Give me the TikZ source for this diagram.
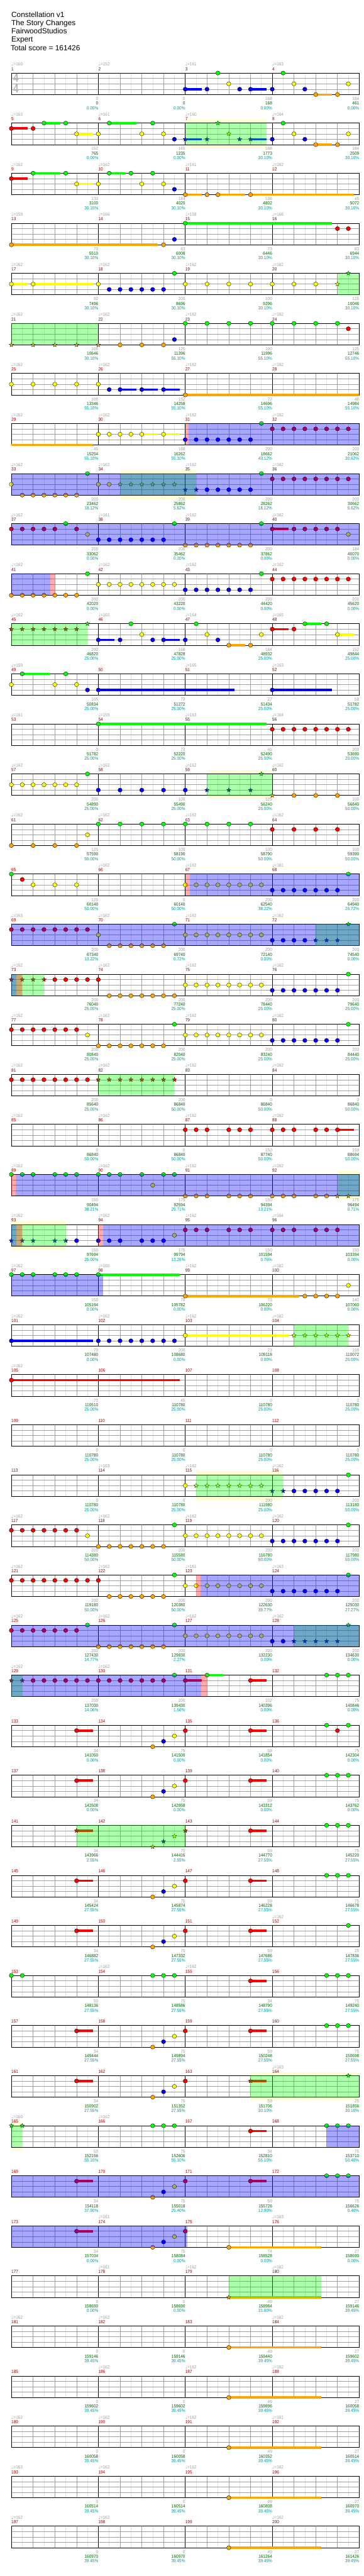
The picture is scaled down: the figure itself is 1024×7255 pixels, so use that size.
\documentclass[tikz,border=0pt]{standalone}
\usepackage{fontspec}
\setmainfont{Liberation Sans}
\newfontfamily\smallfam[FakeStretch=0.92]{Liberation Sans}
\newfontfamily\djv{DejaVu Sans}
\usetikzlibrary{shapes.geometric}
\definecolor{lane0}{HTML}{00FF00}
\definecolor{lane1}{HTML}{FF0000}
\definecolor{lane2}{HTML}{FFFF00}
\definecolor{lane3}{HTML}{0000FF}
\definecolor{lane4}{HTML}{FFA500}
\definecolor{tgray}{HTML}{A0A0A0}
\definecolor{mred}{HTML}{990000}
\definecolor{sgreen}{HTML}{006400}
\definecolor{pteal}{HTML}{009999}
\definecolor{glight}{HTML}{E0E0E0}
\definecolor{gbeat}{HTML}{A0A0A0}
\definecolor{bandc}{HTML}{FFFFD2}
\definecolor{tsgray}{HTML}{B4B4B4}
\newcommand\qtf{\smallfam\fontsize{12.5pt}{13pt}\selectfont}
\tikzset{
  nh/.style={draw=black,line width=0.6pt},
  st/.style={star,star points=5,star point ratio=2.4,minimum size=13,inner sep=0pt,draw=black,line width=0.5pt},
  tempo/.style={anchor=base west,inner sep=0pt,text=tgray,font=\qtf},
  mnum/.style={anchor=base west,inner sep=0pt,text=mred,font=\qtf},
  nA/.style={anchor=base east,inner sep=0pt,text=tgray,font=\qtf},
  nB/.style={anchor=base east,inner sep=0pt,text=sgreen,font=\qtf},
  nC/.style={anchor=base east,inner sep=0pt,text=pteal,font=\qtf},
  ttl/.style={anchor=base west,inner sep=0pt,font=\fontsize{21pt}{23pt}\selectfont},
  gl/.style={glight,line width=1pt},
  gb/.style={gbeat,line width=1pt},
  gm/.style={black,line width=1pt},
  gbd/.style={black,line width=1.5pt},
  ovg/.style={fill=lane0,opacity=0.33},
  ovr/.style={fill=lane1,opacity=0.33},
  ovb/.style={fill=lane3,opacity=0.345}
}
\newcommand\qNC[3]{\path[nh,fill=lane#3] ({32+15.3125*(#2)},{205.7+141*(#1)+15.15*(#3)}) ellipse [x radius=6, y radius=5.8];}
\newcommand\qNS[3]{\node[st,fill=lane#3] at ({32+15.3125*(#2)},{205.7+141*(#1)+15.15*(#3)}) {};}
\newcommand\qSB[4]{\fill[lane#3] ({32+15.3125*(#2)},{205.7+141*(#1)+15.15*(#3)-3.25}) rectangle ({32+15.3125*(#4)},{205.7+141*(#1)+15.15*(#3)+3.25});}
\newcommand\qSC[4]{\qSB{#1}{#2}{#3}{#4}\qNC{#1}{#2}{#3}}
\newcommand\qSS[4]{\qSB{#1}{#2}{#3}{#4}\qNS{#1}{#2}{#3}}
\newcommand\qNCL[3]{\foreach \pp in {#3}{\qNC{#1}{\pp}{#2}}}
\newcommand\qNSL[3]{\foreach \pp in {#3}{\qNS{#1}{\pp}{#2}}}
\newcommand\qOV[4]{\fill[#4] ({32+15.3125*(#2)},{205.7+141*(#1)}) rectangle ({32+15.3125*(#3)},{205.7+141*(#1)+60.6});}
\newcommand\qOG[3]{\qOV{#1}{#2}{#3}{ovg}}
\newcommand\qOR[3]{\qOV{#1}{#2}{#3}{ovr}}
\newcommand\qOB[3]{\qOV{#1}{#2}{#3}{ovb}}
\newcommand\qBD[3]{\fill[bandc] ({32+15.3125*(#2)},{205.7+141*(#1)-10}) rectangle ({32+15.3125*(#3)},{205.7+141*(#1)+70.6});}
\newcommand\qTPone[3]{\ifx\relax#3\relax\else\node[tempo] at ({32+245*#2},{205.7+141*(#1)-20}) {{\djv ♩}=#3};\fi}
\newcommand\qTP[5]{\qTPone{#1}{0}{#2}\qTPone{#1}{1}{#3}\qTPone{#1}{2}{#4}\qTPone{#1}{3}{#5}}
\newcommand\qBN[2]{\foreach \ga/\gb/\gc [count=\mm from 1] in {#2}{%
  \node[nA] at ({32+245*\mm},{205.7+141*(#1)+76.6}) {\ga};
  \node[nB] at ({32+245*\mm},{205.7+141*(#1)+89.7}) {\gb};
  \node[nC] at ({32+245*\mm},{205.7+141*(#1)+102.6}) {\gc\%};}}
\newcommand\qPat[1]{\qSC{#1}{12}{1}{15}\qNC{#1}{26}{4}\qNC{#1}{28}{3}\qNC{#1}{30}{2}\qNC{#1}{32}{1}\qSC{#1}{44}{1}{47}}
\begin{document}
\begin{tikzpicture}[x=1pt,y=-1pt]
\useasboundingbox (0,0) rectangle (1024,7255);
\fill[white] (0,0) rectangle (1024,7255);
% title
\node[ttl] (t1) at (32,49.3) {Constellation v1};
\node[ttl] (t2) at (32,72) {The Story Changes};
\node[ttl] (t3) at (32,95) {FairwoodStudios};
\node[ttl] (t4) at (32,118) {Expert};
\node[ttl] (t5) at (30,141.7) {Total score = 161426};
% bands
\qBD{1}{32}{47}\qBD{8}{20}{34}\qBD{14}{36}{48}\qBD{22}{60}{64}\qBD{23}{0}{10}
\qBD{28}{34}{50}\qBD{40}{44}{64}\qBD{41}{0}{2}
% staves
\foreach \r in {0,...,49}{
  \pgfmathsetmacro\rowy{205.7+141*\r}
  \fill[white] (32,\rowy) rectangle (1012,{\rowy+60.6});
  \foreach \k in {1,3,...,31} \draw[gl] ({32+30.625*\k},\rowy) -- ++(0,60.6);
  \foreach \k in {1,2,3} \draw[gb] (32,{\rowy+15.15*\k}) -- (1012,{\rowy+15.15*\k});
  \foreach \k in {1,2,3,5,6,7,9,10,11,13,14,15} \draw[gb] ({32+61.25*\k},\rowy) -- ++(0,60.6);
  \foreach \k in {0,...,4} \draw[gm] ({32+245*\k},\rowy) -- ++(0,60.6);
  \draw[gbd] (31.5,\rowy) -- (1012.5,\rowy) (31.5,{\rowy+60.6}) -- (1012.5,{\rowy+60.6});
  \foreach \m in {0,...,3}{
    \pgfmathtruncatemacro\mn{4*\r+\m+1}
    \node[mnum] at ({32+245*\m},{\rowy-7.3}) {\mn};
  }
}
% time signature
\node[text=tsgray,font=\bfseries\fontsize{34pt}{34pt}\selectfont,inner sep=0pt] (ts1) at (45,220) {\scalebox{0.8}[1]{4}};
\node[text=tsgray,font=\bfseries\fontsize{34pt}{34pt}\selectfont,inner sep=0pt] (ts2) at (45,250) {\scalebox{0.8}[1]{4}};
% tempos
\qTP{0}{160}{152}{161}{163}
\qTP{1}{163}{161}{160}{164}
\qTP{2}{162}{162}{161}{162}
\qTP{3}{159}{166}{158}{166}
\foreach \r in {4,5,6,7,8,10,14,15,18,19,20,21,22,25,29,31}{\qTP{\r}{162}{162}{162}{162}}
\qTP{9}{162}{161}{162}{162}
\qTP{11}{162}{160}{164}{165}
\qTP{12}{159}{}{165}{163}
\qTP{13}{161}{159}{163}{164}
\qTP{16}{}{162}{162}{161}
\qTP{17}{163}{162}{162}{162}
\qTP{23}{162}{162}{162}{164}
\qTP{24}{162}{160}{162}{162}
\qTP{26}{162}{}{}{}
\qTP{28}{}{163}{162}{162}
\qTP{30}{162}{162}{161}{163}
\qTP{32}{162}{162}{}{}
\qTP{37}{}{}{}{162}
\qTP{38}{}{162}{162}{}
\qTP{40}{}{}{}{163}
\qTP{41}{160}{162}{}{}
\qTP{43}{}{161}{}{163}
\qTP{44}{}{161}{162}{162}
\qTP{45}{162}{162}{}{162}
\qTP{46}{}{162}{162}{162}
\qTP{47}{162}{162}{162}{161}
\qTP{48}{163}{162}{162}{162}
\qTP{49}{162}{162}{}{162}
% bottom numbers
\qBN{0}{0/0/0.00,0/0/0.00,168/168/0.00,184/461/0.00}
\qBN{1}{152/765/0.00,165/1235/0.00,168/1773/30.10,184/2509/30.10}
\qBN{2}{133/3100/30.10,184/4020/30.10,136/4802/30.10,45/5072/30.10}
\qBN{3}{73/5510/30.10,83/6008/30.10,73/6446/30.10,83/6944/30.10}
\qBN{4}{92/7496/30.10,200/8696/30.10,100/9296/30.10,125/10046/30.10}
\qBN{5}{100/10646/30.10,125/11396/55.10,100/11996/55.10,125/12746/55.10}
\qBN{6}{100/13346/55.10,152/14258/55.10,73/14696/55.10,48/14984/55.10}
\qBN{7}{45/15254/55.10,168/16262/55.10,200/18662/43.12,200/21062/30.62}
\qBN{8}{200/23462/18.12,200/25862/5.62,200/28262/18.12,200/30662/5.62}
\qBN{9}{200/33062/0.00,200/35462/0.00,200/37862/0.00,184/40070/0.00}
\qBN{10}{200/42020/0.00,200/43220/0.00,200/44420/0.00,200/45620/0.00}
\qBN{11}{200/46820/25.00,168/47828/25.00,184/48932/25.00,152/49844/25.00}
\qBN{12}{165/50834/25.00,73/51272/25.00,27/51434/25.00,58/51782/25.00}
\qBN{13}{0/51782/25.00,73/52220/25.00,45/52490/25.00,200/53690/25.00}
\qBN{14}{200/54890/25.00,100/55490/25.00,125/56240/25.00,100/56840/50.00}
\qBN{15}{125/57590/50.00,100/58190/50.00,100/58790/50.00,100/59390/50.00}
\qBN{16}{125/60140/50.00,0/60140/50.00,200/62540/38.22,200/64940/25.72}
\qBN{17}{200/67340/13.22,200/69740/0.72,200/72140/0.00,200/74540/0.00}
\qBN{18}{200/76040/25.00,200/77240/25.00,200/78440/25.00,200/79640/25.00}
\qBN{19}{200/80840/25.00,200/82040/25.00,200/83240/25.00,200/84440/25.00}
\qBN{20}{200/85640/25.00,200/86840/50.00,0/86840/50.00,0/86840/50.00}
\qBN{21}{0/86840/50.00,0/86840/50.00,150/87740/50.00,159/88694/50.00}
\qBN{22}{150/90494/38.21,175/92594/25.71,150/94394/13.21,175/96494/0.71}
\qBN{23}{150/97694/25.00,175/99794/13.26,150/101594/0.76,150/103394/0.00}
\qBN{24}{150/105194/0.00,70/105782/0.00,73/106220/0.00,140/107060/0.00}
\qBN{25}{70/107480/0.00,200/108680/0.00,73/109118/0.00,159/110072/25.00}
\qBN{26}{73/110510/25.00,45/110780/25.00,0/110780/25.00,0/110780/25.00}
\qBN{27}{0/110780/25.00,0/110780/25.00,0/110780/25.00,0/110780/25.00}
\qBN{28}{0/110780/25.00,0/110780/25.00,200/111980/25.00,200/113180/50.00}
\qBN{29}{200/114380/50.00,200/115580/50.00,200/116780/50.00,200/117980/50.00}
\qBN{30}{200/119180/50.00,200/120380/50.00,200/122630/39.77,200/125030/27.27}
\qBN{31}{200/127430/14.77,200/129830/2.27,200/132230/0.00,200/134630/0.00}
\qBN{32}{200/137030/14.06,200/139430/1.56,102/140396/0.00,75/140846/0.00}
\qBN{33}{34/141050/0.00,75/141500/0.00,59/141854/0.00,75/142304/0.00}
\qBN{34}{34/142508/0.00,75/142958/0.00,59/143312/0.00,75/143762/0.00}
\qBN{35}{34/143966/2.55,75/144416/2.55,59/144770/27.55,75/145220/27.55}
\qBN{36}{34/145424/27.55,75/145874/27.55,59/146228/27.55,75/146678/27.55}
\qBN{37}{34/146882/27.55,75/147332/27.55,59/147686/27.55,25/147836/27.55}
\qBN{38}{50/148136/27.55,75/148586/27.55,34/148790/27.55,75/149240/27.55}
\qBN{39}{34/149444/27.55,75/149894/27.55,59/150248/27.55,75/150698/27.55}
\qBN{40}{34/150902/27.55,75/151352/27.55,59/151706/30.10,25/151856/30.10}
\qBN{41}{50/152156/55.10,75/152606/55.10,34/152810/55.10,75/153710/50.40}
\qBN{42}{34/154118/37.90,75/155018/25.40,59/155726/12.90,75/156626/0.40}
\qBN{43}{34/157034/0.00,75/158084/0.00,74/158528/0.00,27/158690/0.00}
\qBN{44}{0/158690/0.00,0/158690/0.00,49/158984/31.80,27/159146/39.45}
\qBN{45}{0/159146/39.45,0/159146/39.45,49/159440/39.45,27/159602/39.45}
\qBN{46}{0/159602/39.45,0/159602/39.45,49/159896/39.45,27/160058/39.45}
\qBN{47}{0/160058/39.45,0/160058/39.45,49/160352/39.45,27/160514/39.45}
\qBN{48}{0/160514/39.45,0/160514/39.45,49/160808/39.45,27/160970/39.45}
\qBN{49}{0/160970/39.45,0/160970/39.45,49/161264/39.45,27/161426/39.45}
% ---- notes ----
% row 0
\qNCL{0}{0}{38,50}\qNCL{0}{2}{40,52,62}
\qSC{0}{32}{3}{35}\qNC{0}{36}{3}\qNC{0}{42}{3}\qSC{0}{44}{3}{47}\qNCL{0}{3}{48,54}
\qSC{0}{56}{4}{59}\qNC{0}{60}{4}
% row 1
\qSC{1}{0}{1}{3}\qNC{1}{4}{1}
\qSC{1}{6}{0}{9}\qNC{1}{10}{0}\qSC{1}{18}{0}{23}\qNCL{1}{0}{26,50}
\qSC{1}{12}{2}{15}\qNCL{1}{2}{16,24,28,52,62}
\qNC{1}{30}{3}\qSS{1}{32}{3}{35}\qNSL{1}{3}{36,42}\qSS{1}{44}{3}{47}\qNCL{1}{3}{48,54}
\qNS{1}{38}{0}\qNS{1}{40}{2}
\qSC{1}{56}{4}{59}\qNC{1}{60}{4}
% row 2
\qSC{2}{0}{1}{3}
\qSC{2}{4}{0}{9}\qNC{2}{10}{0}\qSC{2}{18}{0}{21}\qNCL{2}{0}{22,26}
\qSC{2}{12}{2}{15}\qNCL{2}{2}{16,24,28}
\qNC{2}{30}{3}
\qSC{2}{32}{4}{35}\qNC{2}{36}{4}\qSC{2}{38}{4}{43}\qSC{2}{44}{4}{63}
% row 3
\qSC{3}{0}{4}{27}\qNC{3}{28}{4}\qNC{3}{30}{3}\qSC{3}{32}{0}{59}\qNCL{3}{1}{60,62}
% row 4
\qSC{4}{0}{2}{3}\qSC{4}{4}{2}{15}\qNC{4}{16}{2}
\qNCL{4}{3}{18,20,...,28}\qNC{4}{30}{0}
\qNCL{4}{2}{32,36,...,56}\qNS{4}{60}{2}\qNS{4}{62}{0}
% row 5
\qNSL{5}{4}{0,4,...,16}\qNCL{5}{4}{20,24,28}\qNC{5}{30}{3}\qNCL{5}{0}{32,36,...,60}\qNC{5}{62}{1}
% row 6
\qNCL{6}{2}{0,4,...,16}\qNC{6}{18}{3}\qSC{6}{20}{3}{23}\qSC{6}{24}{3}{27}\qSC{6}{28}{3}{31}\qSC{6}{32}{4}{64}
% row 7
\qSB{7}{0}{4}{15}\qNCL{7}{2}{16,18,20,22}\qSC{7}{24}{2}{27}\qSC{7}{28}{2}{31}
\qNCL{7}{3}{32,34,...,44}\qNC{7}{46}{0}\qNCL{7}{1}{48,50,...,62}
% row 8
\qNC{8}{0}{2}\qNCL{8}{4}{2,4,...,12}\qNC{8}{14}{0}\qNCL{8}{2}{16,18}\qNSL{8}{2}{20,22,...,30}
\qNSL{8}{3}{32,34}\qNCL{8}{3}{36,38,...,44}\qNC{8}{46}{0}\qNCL{8}{1}{48,50,...,62}
% row 9
\qNCL{9}{1}{0,2,...,8}\qNC{9}{10}{0}\qNC{9}{12}{1}\qNC{9}{14}{2}\qNCL{9}{3}{16,18,...,28}\qNC{9}{30}{0}
\qNCL{9}{4}{32,34,...,44}\qNC{9}{46}{0}\qSC{9}{48}{1}{51}\qNCL{9}{1}{52,54,...,60}\qNC{9}{62}{2}
% row 10
\qNCL{10}{4}{0,2,...,12}\qNC{10}{14}{0}\qNCL{10}{2}{16,18,...,30}\qNCL{10}{3}{32,34,...,44}\qNC{10}{46}{0}\qNCL{10}{1}{48,50,...,62}
% row 11
\qNSL{11}{1}{0,2,...,12}\qNS{11}{14}{0}\qNC{11}{22}{0}
\qSC{11}{16}{3}{19}\qNC{11}{20}{3}\qNC{11}{24}{2}\qNC{11}{26}{3}\qSC{11}{28}{3}{31}\qNC{11}{32}{3}
\qNC{11}{34}{0}\qNC{11}{36}{2}\qNC{11}{38}{3}\qSC{11}{40}{4}{43}\qNC{11}{44}{4}\qNC{11}{46}{2}
\qSC{11}{48}{1}{51}\qNC{11}{52}{1}\qSC{11}{54}{0}{57}\qNC{11}{58}{0}\qSC{11}{60}{2}{63}
% row 12
\qNC{12}{0}{2}\qSC{12}{2}{0}{7}\qNC{12}{10}{0}\qNCL{12}{2}{8,12}\qNC{12}{14}{3}\qSC{12}{16}{3}{41}\qSC{12}{48}{3}{59}
% row 13
\qSC{13}{16}{0}{47}\qNCL{13}{1}{48,50,...,62}
% row 14
\qNCL{14}{2}{0,2,...,12}\qNC{14}{14}{0}\qNCL{14}{3}{16,20,...,32}\qNSL{14}{3}{36,40,44}\qNS{14}{46}{0}\qNS{14}{48}{4}\qNCL{14}{4}{52,56,60}
% row 15
\qNCL{15}{4}{0,4,8,12}\qNC{15}{14}{2}\qNCL{15}{0}{16,20,...,44}\qNCL{15}{1}{48,52,56,60}
% row 16
\qNC{16}{0}{0}\qNC{16}{2}{1}\qNCL{16}{2}{4,8,12}\qNCL{16}{2}{32,34,...,46}\qNCL{16}{3}{48,50,...,60}\qNC{16}{62}{0}
% row 17
\qNCL{17}{1}{0,2,...,14}\qNC{17}{16}{2}\qNCL{17}{4}{18,20,...,28}\qNC{17}{30}{0}\qNCL{17}{2}{32,34,...,46}
\qNCL{17}{3}{48,50,52,54}\qNSL{17}{3}{56,58,60}\qNS{17}{62}{0}
% row 18
\qNSL{18}{1}{0,2,4,6}\qNCL{18}{1}{8,10,...,16}\qNCL{18}{4}{18,20,...,30}\qNCL{18}{2}{32,34,...,46}\qNCL{18}{3}{48,50,...,60}\qNC{18}{62}{0}
% row 19
\qNCL{19}{1}{0,2,...,12}\qNC{19}{14}{2}\qNCL{19}{4}{16,18,...,28}\qNC{19}{30}{0}\qNCL{19}{2}{32,34,...,46}\qNCL{19}{3}{48,50,...,60}\qNC{19}{62}{0}
% row 20
\qNCL{20}{1}{0,2,...,14}\qNSL{20}{1}{16,18,...,30}
% row 21
\qNCL{21}{1}{32,34,36,40,42,44,48,50,52,56,58}\qSC{21}{60}{1}{63}
% row 22
\qNCL{22}{0}{0,2,4,8,10,12,16,18,20,24,28,30}\qNC{22}{26}{2}\qNCL{22}{4}{32,34,36,40,42,44,48,50,52,56,58}\qNSL{22}{4}{60,62}
% row 23
\qNSL{23}{3}{0,2,4,8,10}\qNCL{23}{3}{12,16,18,20,24,26,28}\qNC{23}{30}{2}\qNCL{23}{1}{32,34,36,40,42,44,48,50,52,56,58,60}
% row 24
\qNCL{24}{0}{0,2,4,8,10,12}\qSC{24}{16}{0}{31}\qSC{24}{32}{4}{53}\qNCL{24}{4}{54,56,58,60}\qNC{24}{62}{2}
% row 25
\qSC{25}{0}{3}{15}\qNCL{25}{3}{16,18,...,30}\qSC{25}{32}{2}{51}\qNSL{25}{2}{52,54,...,62}
% row 26
\qSC{26}{0}{1}{31}
% row 28
\qNC{28}{32}{2}\qNSL{28}{2}{34,36,...,46}\qNSL{28}{3}{48,50}\qNCL{28}{3}{52,54,...,60}\qNC{28}{62}{0}
% row 29
\qNCL{29}{1}{0,2,...,12}\qNC{29}{14}{2}\qNCL{29}{4}{16,18,...,28}\qNC{29}{30}{0}\qNCL{29}{2}{32,34,...,46}\qNCL{29}{3}{48,50,...,60}\qNC{29}{62}{0}
% row 30
\qNCL{30}{1}{0,2,...,16}\qNCL{30}{4}{18,20,...,28}\qNC{30}{30}{0}\qNCL{30}{2}{32,34,...,46}\qNCL{30}{3}{48,50,...,60}\qNC{30}{62}{0}
% row 31
\qNCL{31}{1}{0,2,...,12}\qNC{31}{14}{0}\qNCL{31}{4}{16,18,...,28}\qNC{31}{30}{0}\qNCL{31}{2}{32,34,...,46}\qNCL{31}{3}{48,50}\qNSL{31}{3}{52,54,...,60}\qNS{31}{62}{0}
% row 32
\qNSL{32}{1}{0,2}\qNCL{32}{1}{4,6,...,28}\qNC{32}{30}{0}\qSC{32}{32}{1}{35}\qSC{32}{36}{0}{39}\qSC{32}{44}{1}{47}\qNCL{32}{0}{58,60,62}
% rows 33-43
\qPat{33}\qNCL{33}{0}{58,62}\qNC{33}{60}{1}
\qPat{34}\qNCL{34}{0}{58,60,62}
\qSS{35}{12}{1}{15}\qNS{35}{26}{4}\qNS{35}{28}{3}\qNS{35}{30}{2}\qNS{35}{32}{1}\qSC{35}{44}{1}{47}\qNCL{35}{0}{58,60,62}
\qPat{36}\qNCL{36}{0}{58,60,62}
\qPat{37}\qNC{37}{62}{0}
\qNCL{38}{0}{0,2,26,28,30,58,60,62}\qSC{38}{44}{1}{47}
\qPat{39}\qNCL{39}{0}{58,60,62}
\qSC{40}{12}{1}{15}\qNC{40}{26}{4}\qNC{40}{28}{3}\qNC{40}{30}{2}\qNC{40}{32}{1}\qSS{40}{44}{1}{47}\qNS{40}{62}{0}
\qNSL{41}{0}{0,2}\qNCL{41}{0}{26,28,30,58,60,62}\qSC{41}{44}{1}{47}
\qPat{42}\qNCL{42}{0}{58,60,62}
\qSC{43}{12}{1}{15}\qNC{43}{26}{4}\qNC{43}{28}{3}\qNC{43}{30}{2}\qNC{43}{32}{1}\qSC{43}{40}{4}{57}
% rows 44-49
\qSS{44}{40}{4}{57}
\foreach \r in {45,...,49}{\qSC{\r}{40}{4}{57}}
% ---- overlays ----
\qOG{1}{32}{47}\qOG{4}{60}{64}\qOG{5}{0}{16}\qOG{8}{20}{34}\qOG{11}{0}{14}\qOG{14}{36}{48}
\qOG{17}{56}{64}\qOG{18}{0}{6}\qOG{20}{16}{30}\qOG{22}{60}{64}\qOG{23}{0}{10}\qOG{25}{52}{62}
\qOG{28}{34}{50}\qOG{31}{52}{64}\qOG{32}{0}{2}\qOG{35}{12}{32}\qOG{40}{44}{64}\qOG{41}{0}{2}\qOG{44}{40}{57}
\qOR{7}{32}{32.65}\qOR{10}{7.17}{8}\qOR{16}{32}{32.8}\qOR{18}{0.96}{2}\qOR{22}{0}{0.83}
\qOR{23}{0.96}{2}\qOR{23}{16}{16.9}\qOR{30}{34}{34.83}\qOR{32}{34.92}{36}
\qOB{7}{32.65}{64}\qOB{8}{0}{64}\qOB{9}{0}{64}\qOB{10}{0}{7.17}\qOB{16}{32.8}{64}\qOB{17}{0}{64}
\qOB{18}{0}{0.96}\qOB{22}{0.83}{64}\qOB{23}{0}{0.96}\qOB{23}{16.9}{64}\qOB{24}{0}{16.9}
\qOB{30}{34.83}{64}\qOB{31}{0}{64}\qOB{32}{0}{34.92}\qOB{41}{57.9}{64}\qOB{42}{0}{64}\qOB{43}{0}{32.43}
\end{tikzpicture}
\end{document}
